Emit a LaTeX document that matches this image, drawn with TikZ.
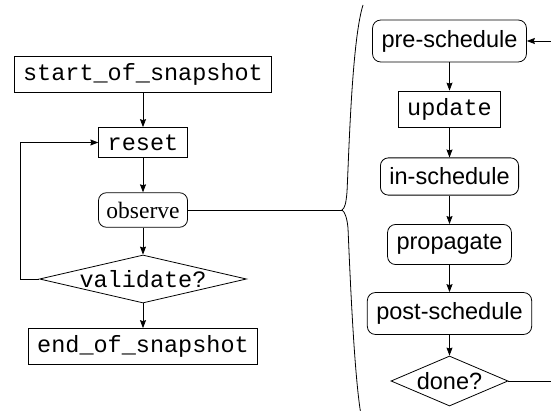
\documentclass[tikz,border=0pt]{standalone}
\usepackage{fontspec}
\setmainfont{Liberation Serif}
\setsansfont{Liberation Sans}
\setmonofont{Liberation Mono}
\usetikzlibrary{shapes.geometric,arrows.meta}
\begin{document}
\begin{tikzpicture}[x=1pt,y=-1pt,
  every node/.style={font=\fontsize{23.5}{28}\selectfont},
  line/.style={line width=0.8pt},
  arr/.style={line width=0.8pt,-{Stealth[length=8pt,width=6pt,inset=1pt]}},
  monobox/.style={draw,line width=0.8pt,inner xsep=9pt,inner ysep=7pt,font=\fontsize{23.5}{28}\selectfont\ttfamily},
  serifbox/.style={draw,line width=0.8pt,rounded corners=8pt,inner xsep=8pt,inner ysep=9pt},
  sansbox/.style={draw,line width=0.8pt,rounded corners=8pt,inner xsep=9pt,inner ysep=10pt,font=\fontsize{23.5}{28}\selectfont\sffamily},
  decision/.style={draw,line width=0.8pt,diamond,inner sep=0pt}
]
\useasboundingbox (0,0) rectangle (551,411);

% left column
\node[monobox] (start) at (143,74.5) {start\_of\_snapshot};
\node[monobox] (reset) at (143,142.5) {reset};
\node[serifbox] (observe) at (143,210) {observe};
\node[decision,shape aspect=4.3,minimum width=207pt,minimum height=48pt,font=\fontsize{23.5}{28}\selectfont\ttfamily] (validate) at (143,279) {validate?};
\node[monobox] (end) at (143,346.5) {end\_of\_snapshot};

\draw[arr] (start) -- (reset);
\draw[arr] (reset) -- (observe);
\draw[arr] (observe) -- (validate);
\draw[arr] (validate) -- (end);
\coordinate (loopL) at (20,279);
\draw[arr] (validate.west) -- (loopL) |- (reset.west);

% brace
\coordinate (cusp) at (342,210);
\draw[line] (observe.east) -- (cusp);
\draw[line] (363,5) .. controls (352,40) and (349,150) .. (347,192)
  .. controls (346,203) and (345,208) .. (cusp)
  .. controls (345,212) and (347,218) .. (348,228)
  .. controls (351,300) and (355,380) .. (361,415);

% right column
\node[sansbox] (pre) at (449.5,41) {pre-schedule};
\node[monobox] (update) at (449.5,109) {update};
\node[sansbox] (in) at (449.5,176.5) {in-schedule};
\node[sansbox] (prop) at (449.5,244.5) {propagate};
\node[sansbox] (post) at (449.5,313.5) {post-schedule};
\node[decision,shape aspect=2.34,minimum width=117pt,minimum height=50pt,font=\fontsize{23.5}{28}\selectfont\sffamily] (done) at (449.5,381) {done?};

\draw[arr] (pre) -- (update);
\draw[arr] (update) -- (in);
\draw[arr] (in) -- (prop);
\draw[arr] (prop) -- (post);
\draw[arr] (post) -- (done);
\coordinate (rightB) at (552,381);
\coordinate (rightT) at (552,41);
\draw[line] (done.east) -- (rightB);
\draw[arr] (rightT) -- (pre.east);
\end{tikzpicture}
\end{document}
